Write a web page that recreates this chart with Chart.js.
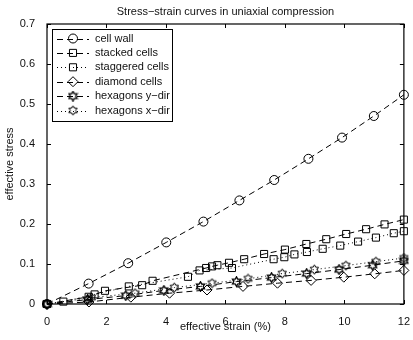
<!DOCTYPE html>
<html>
<head>
<meta charset="utf-8">
<script src="https://cdn.jsdelivr.net/npm/chart.js@4/dist/chart.umd.min.js"></script>
<style>
  html, body { margin: 0; padding: 0; background: #fff; }
  #wrap { width: 413px; height: 340px; }
</style>
</head>
<body>
<div id="wrap"><canvas id="chart"></canvas></div>
<script>
// values (strain in %, stress dimensionless)
const cellWallStrain = [0, 1.40, 2.73, 4.01, 5.26, 6.47, 7.64, 8.79, 9.92, 10.99, 12.0];
const cellWallStress = [0, 0.051, 0.102, 0.154, 0.206, 0.259, 0.310, 0.363, 0.416, 0.470, 0.523];

const stackedStrain = [0, 1.40, 1.95, 3.20, 3.55, 5.35, 5.55, 5.73, 6.12, 6.63, 7.30, 8.00, 8.72, 9.39, 10.06, 10.73, 11.35, 12.0];
const stackedStress = [0, 0.018, 0.033, 0.047, 0.058, 0.090, 0.094, 0.097, 0.103, 0.112, 0.125, 0.136, 0.150, 0.162, 0.175, 0.187, 0.199, 0.211];

const staggeredStrain = [0, 0.55, 1.60, 2.75, 4.74, 5.13, 6.22, 7.62, 7.98, 8.32, 8.74, 9.27, 9.86, 10.46, 11.06, 11.66, 12.0];
const staggeredStress = [0, 0.006, 0.024, 0.044, 0.068, 0.084, 0.090, 0.112, 0.117, 0.124, 0.130, 0.138, 0.146, 0.156, 0.166, 0.177, 0.182];

const diamondStrain = [0, 1.41, 2.82, 4.12, 5.38, 6.59, 7.75, 8.88, 9.98, 11.02, 12.0];
const diamondStress = [0, 0.005, 0.017, 0.027, 0.035, 0.044, 0.052, 0.059, 0.067, 0.0755, 0.084];

const hexYStrain = [0, 1.36, 2.65, 3.93, 5.16, 6.37, 7.55, 8.73, 9.82, 10.95, 12.0];
const hexYStress = [0, 0.011, 0.021, 0.034, 0.044, 0.056, 0.066, 0.076, 0.086, 0.097, 0.108];

const hexXStrain = [0, 1.49, 2.96, 4.28, 5.55, 6.76, 7.91, 8.99, 10.05, 11.06, 12.0];
const hexXStress = [0, 0.016, 0.027, 0.041, 0.052, 0.063, 0.076, 0.086, 0.096, 0.106, 0.115];

const seriesLabels = ['cell wall', 'stacked cells', 'staggered cells', 'diamond cells', 'hexagons y\u2212dir', 'hexagons x\u2212dir'];

const FONT = "'Liberation Sans', Arial, sans-serif";
const DASH = [6, 4];
const DOT = [1, 3];

// six pointed star marker (matlab 'hexagram')
function hexagram(size, lw) {
  const c = document.createElement('canvas');
  c.width = c.height = size;
  const g = c.getContext('2d');
  const cx = size / 2, cy = size / 2, r = size / 2 - 0.8;
  g.strokeStyle = '#000';
  g.lineWidth = lw;
  g.beginPath();
  for (let i = 0; i < 12; i++) {
    const ang = -Math.PI / 2 + i * Math.PI / 6;
    const rr = i % 2 === 0 ? r : r * 0.58;
    const px = cx + rr * Math.cos(ang), py = cy + rr * Math.sin(ang);
    if (i === 0) g.moveTo(px, py); else g.lineTo(px, py);
  }
  g.closePath();
  g.stroke();
  return c;
}
const hexMarkerY = hexagram(11, 1.3);
const hexMarkerX = hexagram(11, 1);

function pts(xs, ys) {
  return xs.map((v, i) => ({ x: v, y: ys[i] }));
}

function series(label, xs, ys, dash, style, radius) {
  return {
    label: label,
    data: pts(xs, ys),
    borderColor: '#000',
    borderWidth: 1,
    borderDash: dash,
    backgroundColor: 'rgba(0,0,0,0)',
    pointStyle: style,
    pointRadius: radius,
    pointBorderWidth: 1,
    pointBorderColor: '#000',
    pointBackgroundColor: 'rgba(0,0,0,0)',
    tension: 0,
    clip: false
  };
}

const datasets = [
  series(seriesLabels[0], cellWallStrain, cellWallStress, DASH, 'circle', 4.5),
  series(seriesLabels[1], stackedStrain, stackedStress, DASH, 'rect', 5),
  series(seriesLabels[2], staggeredStrain, staggeredStress, DOT, 'rect', 5),
  series(seriesLabels[3], diamondStrain, diamondStress, DASH, 'rectRot', 5),
  series(seriesLabels[4], hexYStrain, hexYStress, DASH, hexMarkerY, 5),
  series(seriesLabels[5], hexXStrain, hexXStress, DOT, hexMarkerX, 5)
];

// box, inward ticks, titles and the inset legend, matlab style
const matlabFrame = {
  id: 'matlabFrame',
  afterDatasetsDraw(chart) {
    const { ctx, chartArea: a, scales } = chart;
    const xs = scales.x, ys = scales.y;
    ctx.save();
    ctx.strokeStyle = '#000';
    ctx.lineWidth = 1.2;
    ctx.setLineDash([]);
    ctx.strokeRect(a.left, a.top, a.right - a.left, a.bottom - a.top);

    ctx.lineWidth = 1;
    ctx.beginPath();
    xs.ticks.forEach(t => {
      const px = Math.round(xs.getPixelForValue(t.value)) + 0.5;
      ctx.moveTo(px, a.bottom); ctx.lineTo(px, a.bottom - 4);
      ctx.moveTo(px, a.top); ctx.lineTo(px, a.top + 4);
    });
    ys.ticks.forEach(t => {
      const py = Math.round(ys.getPixelForValue(t.value)) + 0.5;
      ctx.moveTo(a.left, py); ctx.lineTo(a.left + 4, py);
      ctx.moveTo(a.right, py); ctx.lineTo(a.right - 4, py);
    });
    ctx.stroke();

    // titles
    const midX = (a.left + a.right) / 2;
    ctx.fillStyle = '#111';
    ctx.font = '11px ' + FONT;
    ctx.textAlign = 'center';
    ctx.textBaseline = 'middle';
    ctx.fillText('Stress\u2212strain curves in uniaxial compression', midX, 12);
    ctx.fillText('effective strain (%)', midX, 327);
    ctx.save();
    ctx.translate(10, (a.top + a.bottom) / 2);
    ctx.rotate(-Math.PI / 2);
    ctx.fillText('effective stress', 0, 0);
    ctx.restore();

    // legend
    const lx = 52, ly = 29, lw = 120, lh = 92;
    ctx.fillStyle = '#fff';
    ctx.fillRect(lx, ly, lw, lh);
    ctx.lineWidth = 1;
    ctx.strokeStyle = '#000';
    ctx.strokeRect(lx + 0.5, ly + 0.5, lw, lh);
    chart.data.datasets.forEach((ds, i) => {
      const rowY = 38.5 + i * 14.4;
      ctx.strokeStyle = '#000';
      ctx.lineWidth = 1;
      ctx.setLineDash(ds.borderDash);
      ctx.beginPath();
      ctx.moveTo(57, Math.round(rowY) + 0.5);
      ctx.lineTo(89, Math.round(rowY) + 0.5);
      ctx.stroke();
      ctx.setLineDash([]);
      ctx.fillStyle = 'rgba(0,0,0,0)';
      Chart.helpers.drawPoint(ctx, {
        pointStyle: ds.pointStyle,
        rotation: 0,
        radius: ds.pointRadius,
        borderWidth: 1
      }, 73, rowY);
      ctx.fillStyle = '#111';
      ctx.textAlign = 'left';
      ctx.fillText(ds.label, 95, rowY);
    });
    ctx.restore();
  }
};

new Chart(document.getElementById('chart'), {
  type: 'line',
  data: { datasets: datasets },
  options: {
    responsive: true,
    maintainAspectRatio: false,
    animation: false,
    devicePixelRatio: 1,
    layout: { padding: { left: 7, right: 4, top: 24, bottom: 0 } },
    plugins: {
      legend: { display: false },
      title: { display: false },
      tooltip: { enabled: false }
    },
    scales: {
      x: {
        type: 'linear',
        min: 0,
        max: 12,
        grid: { display: false },
        border: { display: false },
        ticks: { stepSize: 2, padding: 3, color: '#111', font: { family: FONT, size: 11 }, maxRotation: 0 },
        afterFit(s) { s.height = 36; }
      },
      y: {
        type: 'linear',
        min: 0,
        max: 0.7,
        grid: { display: false },
        border: { display: false },
        ticks: {
          stepSize: 0.1,
          padding: 4,
          color: '#111',
          font: { family: FONT, size: 11 },
          callback: v => (Math.abs(v) < 1e-9 ? '0' : v.toFixed(1))
        },
        afterFit(s) { s.width = 40; }
      }
    }
  },
  plugins: [matlabFrame]
});
</script>
</body>
</html>
